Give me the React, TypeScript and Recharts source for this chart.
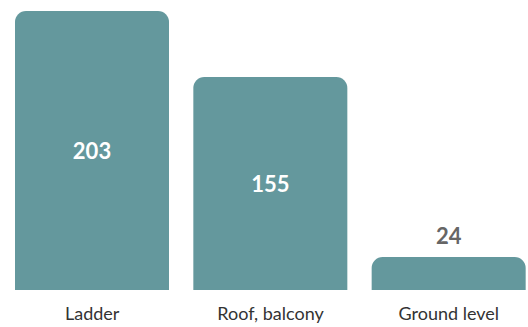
import React from "react";
import { BarChart, Bar, XAxis, YAxis, LabelList } from "recharts";

const categories = ["Ladder", "Roof, balcony", "Ground level"];
const counts = [203, 155, 24];

const data = categories.map((name, i) => ({ name, value: counts[i] }));

const FONT = "Lato, 'Open Sans', sans-serif";

const renderLabel = (props: any) => {
  const { x, y, width, height, value } = props;
  const inside = height > 60;
  const cx = x + width / 2;
  const cy = inside ? y + height / 2 : y - 22;
  return (
    <text
      x={cx}
      y={cy}
      textAnchor="middle"
      dominantBaseline="central"
      fill={inside ? "#ffffff" : "#666666"}
      fontFamily={FONT}
      fontWeight={700}
      fontSize={22}
    >
      {value}
    </text>
  );
};

export default function App() {
  return (
    <div style={{ position: "absolute", left: 0, top: 0, width: 528, height: 327, overflow: "hidden", background: "#fff" }}>
      <BarChart
        width={540}
        height={327}
        data={data}
        margin={{ top: 11, right: 2, bottom: 0, left: 3 }}
        barCategoryGap={12}
      >
        <XAxis
          dataKey="name"
          axisLine={false}
          tickLine={false}
          height={37}
          interval={0}
          tick={{ fill: "#333333", fontSize: 18, fontFamily: FONT }}
          tickMargin={11}
        />
        <YAxis hide domain={[0, 203]} />
        <Bar dataKey="value" fill="#64989d" radius={[11, 11, 0, 0]} isAnimationActive={false}>
          <LabelList dataKey="value" content={renderLabel} />
        </Bar>
      </BarChart>
    </div>
  );
}
